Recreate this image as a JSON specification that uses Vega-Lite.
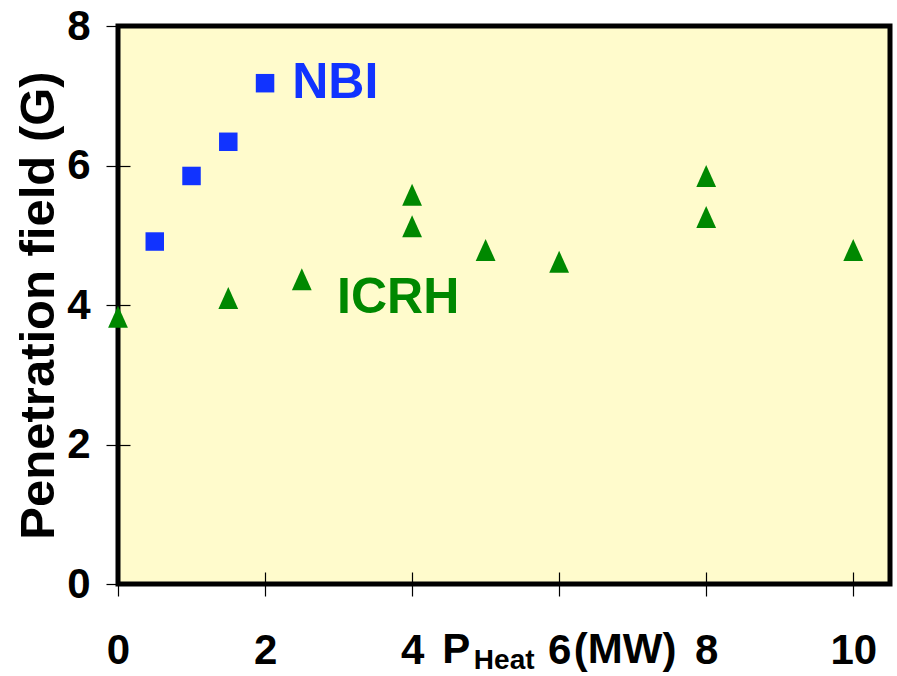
{
  "$schema": "https://vega.github.io/schema/vega-lite/v6.json",
  "width": 772,
  "height": 558,
  "autosize": "none",
  "padding": {"left": 118, "top": 26, "right": 7, "bottom": 92},
  "background": "white",
  "config": {
    "view": {"fill": "#FFFBCC", "stroke": "black", "strokeWidth": 5},
    "font": "Liberation Sans"
  },
  "datasets": {
    "points": [
      {"method": "NBI", "power": 0.5, "field": 4.91},
      {"method": "NBI", "power": 1.0, "field": 5.85},
      {"method": "NBI", "power": 1.5, "field": 6.34},
      {"method": "NBI", "power": 2.0, "field": 7.18},
      {"method": "ICRH", "power": 0.0, "field": 3.83},
      {"method": "ICRH", "power": 1.5, "field": 4.10},
      {"method": "ICRH", "power": 2.5, "field": 4.37},
      {"method": "ICRH", "power": 4.0, "field": 5.58},
      {"method": "ICRH", "power": 4.0, "field": 5.13},
      {"method": "ICRH", "power": 5.0, "field": 4.79},
      {"method": "ICRH", "power": 6.0, "field": 4.62},
      {"method": "ICRH", "power": 8.0, "field": 5.85},
      {"method": "ICRH", "power": 8.0, "field": 5.26},
      {"method": "ICRH", "power": 10.0, "field": 4.79}
    ],
    "nbiLabel": [{"text": "NBI", "power": 2.37, "field": 6.97}],
    "icrhLabel": [{"text": "ICRH", "power": 2.98, "field": 3.885}],
    "titleMain": [
      {"text": "P", "power": 4.41, "field": -1.133},
      {"text": "(MW)", "power": 6.2, "field": -1.133}
    ],
    "titleSub": [{"text": "Heat", "power": 4.84, "field": -1.22}]
  },
  "layer": [
    {
      "data": {"name": "points"},
      "transform": [{"filter": "datum.method === 'NBI'"}],
      "mark": {"type": "point", "filled": true, "opacity": 1, "shape": "square", "size": 342, "color": "#1133FF"},
      "encoding": {
        "x": {
          "field": "power", "type": "quantitative",
          "scale": {"domain": [0, 10.5], "nice": false, "zero": false},
          "axis": {
            "values": [0, 2, 4, 6, 8, 10], "format": "d", "offset": -12, "ticks": true, "tickSize": 24, "tickWidth": 1.2,
            "tickColor": "black", "tickOpacity": 1, "domain": false, "grid": false,
            "labelFont": "Liberation Sans", "labelFontWeight": "bold", "labelFontSize": 42,
            "labelColor": "black", "labelPadding": 34, "labelFlush": false, "labelOverlap": false,
            "title": null
          }
        },
        "y": {
          "field": "field", "type": "quantitative",
          "scale": {"domain": [0, 8], "nice": false, "zero": false},
          "axis": {
            "values": [0, 2, 4, 6, 8], "format": "d", "offset": -12, "ticks": true, "tickSize": 24, "tickWidth": 1.2,
            "tickColor": "black", "tickOpacity": 1, "domain": false, "grid": false,
            "labelFont": "Liberation Sans", "labelFontWeight": "bold", "labelFontSize": 42,
            "labelColor": "black", "labelPadding": 16, "labelFlush": false, "labelOverlap": false,
            "title": "Penetration field (G)",
            "titleFont": "Liberation Sans", "titleFontWeight": "bold", "titleFontSize": 49,
            "titleColor": "black", "titleAngle": -90, "titleX": -77, "titleY": 279,
            "titleAlign": "center", "titleBaseline": "alphabetic"
          }
        }
      }
    },
    {
      "data": {"name": "points"},
      "transform": [{"filter": "datum.method === 'ICRH'"}],
      "mark": {"type": "point", "filled": true, "opacity": 1, "shape": "M0,-1L0.9,1L-0.9,1Z", "size": 484, "color": "#008800"},
      "encoding": {
        "x": {"field": "power", "type": "quantitative"},
        "y": {"field": "field", "type": "quantitative"}
      }
    },
    {
      "data": {"name": "nbiLabel"},
      "mark": {"type": "text", "align": "left", "baseline": "alphabetic", "font": "Liberation Sans", "fontWeight": "bold", "fontSize": 50, "color": "#1133FF"},
      "encoding": {
        "x": {"field": "power", "type": "quantitative"},
        "y": {"field": "field", "type": "quantitative"},
        "text": {"field": "text"}
      }
    },
    {
      "data": {"name": "icrhLabel"},
      "mark": {"type": "text", "align": "left", "baseline": "alphabetic", "font": "Liberation Sans", "fontWeight": "bold", "fontSize": 50, "color": "#008800"},
      "encoding": {
        "x": {"field": "power", "type": "quantitative"},
        "y": {"field": "field", "type": "quantitative"},
        "text": {"field": "text"}
      }
    },
    {
      "data": {"name": "titleMain"},
      "mark": {"type": "text", "align": "left", "baseline": "alphabetic", "font": "Liberation Sans", "fontWeight": "bold", "fontSize": 42, "color": "black"},
      "encoding": {
        "x": {"field": "power", "type": "quantitative"},
        "y": {"field": "field", "type": "quantitative"},
        "text": {"field": "text"}
      }
    },
    {
      "data": {"name": "titleSub"},
      "mark": {"type": "text", "align": "left", "baseline": "alphabetic", "font": "Liberation Sans", "fontWeight": "bold", "fontSize": 28, "color": "black"},
      "encoding": {
        "x": {"field": "power", "type": "quantitative"},
        "y": {"field": "field", "type": "quantitative"},
        "text": {"field": "text"}
      }
    }
  ]
}
